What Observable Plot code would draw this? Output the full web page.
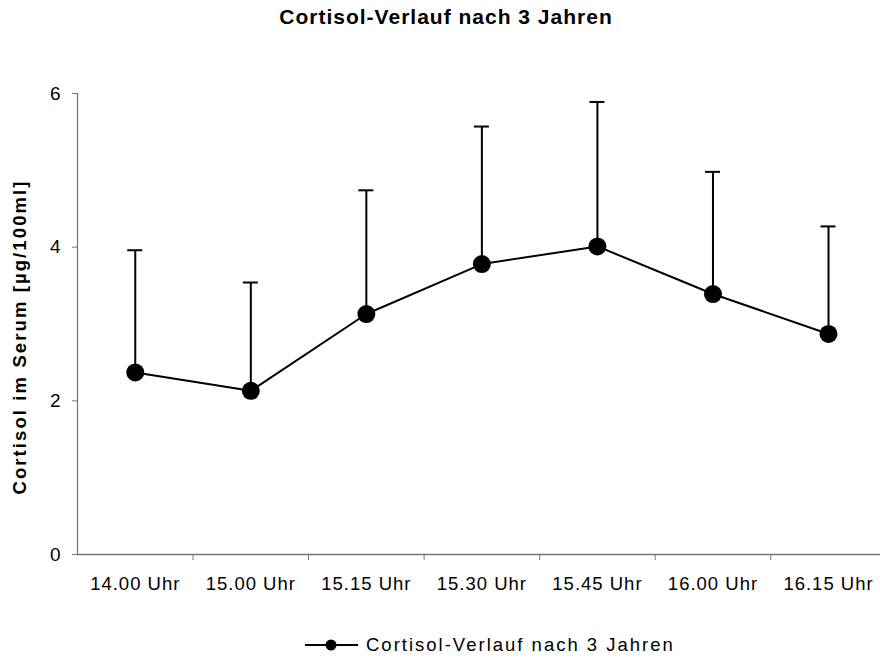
<!DOCTYPE html>
<html>
<head>
<meta charset="utf-8">
<script src="https://cdn.jsdelivr.net/npm/d3@7"></script>
<script src="https://cdn.jsdelivr.net/npm/@observablehq/plot@0.6"></script>
<style>
  html, body { margin: 0; padding: 0; background: #fff; }
  body { width: 880px; height: 661px; overflow: hidden; font-family: "Liberation Sans", Arial, sans-serif; }
  #title { height: 50px; padding-top: 6px; box-sizing: border-box; text-align: center; font-weight: bold; font-size: 21px; line-height: 22px; letter-spacing: 1px; color: #000; padding-left: 12px; }
  #chart svg { display: block; }
  #legend { height: 41px; display: flex; align-items: center; justify-content: flex-start; font-size: 18.5px; letter-spacing: 2px; color: #000; padding-left: 305px; padding-top: 8px; box-sizing: border-box; }
  #legend svg { margin-right: 8px; }
</style>
</head>
<body>
<div id="title">Cortisol-Verlauf nach 3 Jahren</div>
<div id="chart"></div>
<div id="legend"></div>
<script>
// Time points of the measurement
const times = ["14.00 Uhr", "15.00 Uhr", "15.15 Uhr", "15.30 Uhr", "15.45 Uhr", "16.00 Uhr", "16.15 Uhr"];
// Mean serum cortisol (µg/100ml)
const means = [2.37, 2.13, 3.13, 3.78, 4.01, 3.39, 2.87];
// Mean + standard deviation (top of the error bar)
const upper = [3.96, 3.54, 4.74, 5.57, 5.89, 4.98, 4.27];
const yTicks = [0, 2, 4, 6];
const yLabel = "Cortisol im Serum [µg/100ml]";
const seriesName = "Cortisol-Verlauf nach 3 Jahren";

const data = times.map((t, i) => ({ i, t, mean: means[i], hi: upper[i] }));
const centre = d => d.i + 0.5;
const capHalf = 0.065;

const chart = Plot.plot({
  width: 880,
  height: 570,
  marginLeft: 77,
  marginRight: 0,
  marginTop: 43,
  marginBottom: 66,
  style: { fontFamily: "Liberation Sans, Arial, sans-serif", background: "#fff" },
  x: { domain: [0, 6.95] },
  y: { domain: [0, 6] },
  marks: [
    // category separators on the x axis
    Plot.axisX([1, 2, 3, 4, 5, 6], { tickSize: 6, tickFormat: () => "", stroke: "#777" }),
    // category names under each band
    Plot.axisX(data.map(centre), {
      tickSize: 0, tickPadding: 22, fontSize: 18.5, fill: "#000",
      tickFormat: v => times[Math.round(v - 0.5)], label: null
    }),
    Plot.axisY(yTicks, {
      tickSize: 5, tickPadding: 12, fontSize: 19, fill: "#000", stroke: "#777",
      tickFormat: "d", label: null
    }),
    // rotated y-axis title
    Plot.text([yLabel], {
      frameAnchor: "left", textAnchor: "middle", rotate: -90, dx: -57, dy: 13,
      fontSize: 18.5, fontWeight: "bold", fill: "#000", text: d => d
    }),
    Plot.ruleX([0], { stroke: "#777", strokeWidth: 1.3 }),
    Plot.ruleY([0], { stroke: "#777", strokeWidth: 1.3 }),
    // error bars (upper half only)
    Plot.ruleX(data, { x: centre, y1: "mean", y2: "hi", stroke: "#000", strokeWidth: 2 }),
    Plot.ruleY(data, { y: "hi", x1: d => centre(d) - capHalf, x2: d => centre(d) + capHalf, stroke: "#000", strokeWidth: 2 }),
    Plot.line(data, { x: centre, y: "mean", stroke: "#000", strokeWidth: 2 }),
    Plot.dot(data, { x: centre, y: "mean", r: 9, fill: "#000" })
  ]
});
// letter spacing for axis texts
chart.querySelectorAll("[aria-label='x-axis tick label'] text").forEach(el => el.setAttribute("letter-spacing", "1"));
chart.querySelectorAll("[aria-label='text'] text").forEach(el => el.setAttribute("letter-spacing", "2.1"));
document.getElementById("chart").appendChild(chart);

// legend swatch: line with a filled circle
const sw = d3.create("svg").attr("width", 53).attr("height", 20);
sw.append("line").attr("x1", 0).attr("x2", 53).attr("y1", 10).attr("y2", 10).attr("stroke", "#000").attr("stroke-width", 2);
sw.append("circle").attr("cx", 26).attr("cy", 10).attr("r", 5.5).attr("fill", "#000");
const leg = document.getElementById("legend");
leg.appendChild(sw.node());
const lt = document.createElement("span");
lt.textContent = seriesName;
leg.appendChild(lt);
</script>
</body>
</html>
